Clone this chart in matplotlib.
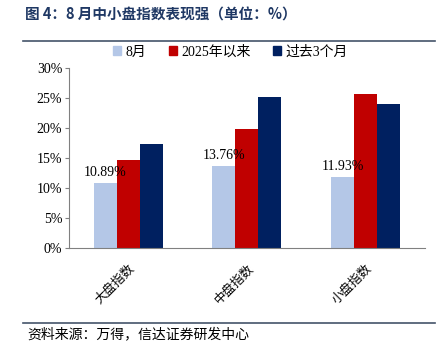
import matplotlib
matplotlib.use("Agg")
import matplotlib.pyplot as plt
import numpy as np
from matplotlib.lines import Line2D

plt.rcParams['font.family'] = ['Liberation Serif', 'Noto Sans CJK SC']

categories = ['大盘指数', '中盘指数', '小盘指数']
series_names = ['8月', '2025年以来', '过去3个月']
aug = [10.89, 13.76, 11.93]
ytd = [14.7, 19.8, 25.7]
last3m = [17.3, 25.2, 24.0]
yticks = [0, 5, 10, 15, 20, 25, 30]
colors = ['#B4C7E7', '#C00000', '#002060']

fig = plt.figure(figsize=(4.43, 3.61), dpi=100)
ax = fig.add_axes([0.156, 0.312, 0.803, 0.499])

x = np.arange(len(categories))
w = 0.194
for i, (vals, name, c) in enumerate(zip([aug, ytd, last3m], series_names, colors)):
    ax.bar(x + (i - 1) * w, vals, width=w, color=c, label=name)

for xi, v in zip(x, aug):
    ax.text(xi - w, v + 0.7, f'{v:.2f}%', ha='center', va='bottom', fontsize=10,
            family='Liberation Serif')

ax.set_xlim(-0.5, 2.5)
ax.set_ylim(0, 30)
ax.set_yticks(yticks)
ax.set_yticklabels([f'{t}%' for t in yticks], fontsize=10)
ax.set_xticks(x)
ax.set_xticklabels(categories, rotation=45, ha='right', rotation_mode='anchor',
                   fontsize=9, family=['Noto Sans CJK SC'])
ax.tick_params(axis='x', length=0, pad=10)
ax.tick_params(axis='y', length=3, color='#808080', pad=2)
for s in ['top', 'right']:
    ax.spines[s].set_visible(False)
for s in ['left', 'bottom']:
    ax.spines[s].set_color('#808080')
    ax.spines[s].set_linewidth(0.8)

handles = [plt.Rectangle((0, 0), 1, 1, color=c) for c in colors]
fig.legend(handles, series_names, loc='center', bbox_to_anchor=(0.52, 1 - 52/361),
           ncol=3, frameon=False, handlelength=0.6, handleheight=0.6,
           handletextpad=0.3, columnspacing=1.6,
           prop={'family': ['Liberation Serif', 'Noto Sans CJK SC'], 'size': 10})

fig.text(25/443, 1 - 15/361, '图 4：8 月中小盘指数表现强（单位：%）', ha='left', va='center',
         fontsize=10.5, fontweight='bold', color='#1F3864',
         family=['Noto Sans CJK SC'])
fig.add_artist(Line2D([23/443, 435/443], [1 - 41/361, 1 - 41/361], color='#44546A', lw=1.2))
fig.add_artist(Line2D([23/443, 435/443], [1 - 323/361, 1 - 323/361], color='#44546A', lw=1.2))
fig.text(27/443, 1 - 334/361, '资料来源：万得，信达证券研发中心', ha='left', va='center',
         fontsize=10, style='italic', color='#000000', family=['Noto Sans CJK SC'])

fig.savefig('out.png', dpi=100)
